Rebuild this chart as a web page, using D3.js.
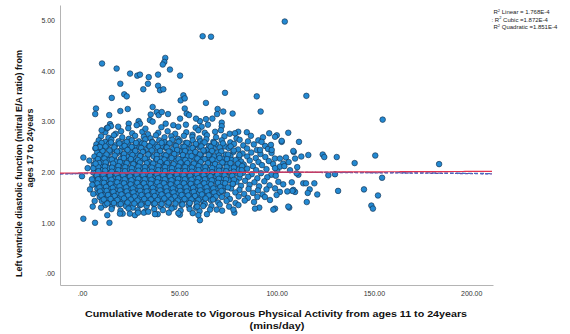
<!DOCTYPE html>
<html>
<head>
<meta charset="utf-8">
<script src="https://cdn.jsdelivr.net/npm/d3@7"></script>
<style>
  html, body { margin: 0; padding: 0; background: #fff; }
  svg { display: block; font-family: "Liberation Sans", Arial, sans-serif; }
</style>
</head>
<body>
<svg id="chart" width="570" height="334"></svg>
<script>
// Cumulative MVPA (mins/day, ages 11-24) vs mitral E/A ratio (ages 17-24)

const xTicks = [0, 50, 100, 150, 200];
const xTickLabels = [".00", "50.00", "100.00", "150.00", "200.00"];
const yTicks = [0, 1, 2, 3, 4, 5];
const yTickLabels = [".00", "1.00", "2.00", "3.00", "4.00", "5.00"];

// R² of the fitted curves
const fitNames = ["Linear", "Cubic", "Quadratic"];
const fitR2 = ["1.768E-4", "1.872E-4", "1.851E-4"];

// fitted coefficients (intercept, x, x², x³)
const linearFit = [1.985, 0.00015];
const quadraticFit = [1.975, 0.00045, -0.0000022];
const cubicFit = [1.972, 0.0006, -0.000004, 0.000000005];

// participants away from the main cloud
const fringePoints = [
  [104.2,4.98],[62.0,4.69],[66.3,4.68],[10.3,4.15],[17.8,4.05],[24.7,3.95],[28.4,3.91],[29.8,3.93],
  [34.3,3.88],[39.1,3.93],[42.8,4.26],[42.3,4.18],[41.5,4.13],[45.2,4.03],[50.4,3.91],[19.7,3.75],
  [33.9,3.75],[31.5,3.64],[39.1,3.71],[40.1,3.62],[41.8,3.64],[21.7,3.54],[23.0,3.50],[15.3,3.47],
  [50.7,3.42],[52.1,3.52],[52.8,3.46],[73.5,3.57],[89.8,3.50],[63.7,3.37],[115.3,3.51],[154.5,3.04],
  [7.2,3.26],[6.8,3.15],[14.0,3.13],[19.7,3.21],[23.5,3.25],[36.3,3.29],[35.3,3.14],[38.4,3.19],
  [39.4,3.13],[41.0,3.19],[44.2,3.15],[34.9,3.03],[36.3,3.00],[29.1,3.01],[29.8,2.96],[28.1,2.93],
  [24.0,2.96],[23.8,2.87],[14.4,2.95],[14.9,2.91],[12.7,2.87],[10.1,2.83],[43.0,2.96],[46.9,2.93],
  [50.4,3.06],[49.5,2.90],[91.8,3.20],[77.4,3.16],[72.6,3.20],[69.7,3.25],[69.4,3.15],[67.0,3.06],
  [63.7,3.05],[60.6,3.01],[58.6,3.06],[53.8,3.16],[55.0,3.13],[52.8,3.26],[71.8,2.98],[71.8,2.91],
  [64.7,2.94],[61.5,2.90],[58.4,2.88],[59.8,2.83],[53.4,2.94],[71.4,2.83],[96.2,2.77],[100.1,2.73],
  [106.0,2.78],[80.3,2.80],[78.6,2.77],[13.2,2.88],[32.6,2.86],[40.8,2.89],[18.6,2.90],
  [111.5,2.60],[112.7,2.31],[116.3,2.34],[123.7,2.35],[124.5,2.30],[130.9,2.30],[140.1,2.18],
  [150.7,2.33],[183.5,2.16],[110.6,2.10],[111.2,1.95],[126.6,1.94],[130.0,1.96],[154.2,1.89],
  [113.7,1.78],[115.1,1.78],[119.4,1.78],[117.0,1.66],[116.0,1.59],[120.9,1.56],[131.6,1.63],
  [144.9,1.66],[152.1,1.54],[115.5,1.41],[148.7,1.34],[149.5,1.28],[109.5,1.61],
  [102.6,2.60],[108.8,2.40],[106.5,1.30],[108.6,2.42],[104.8,2.29],[109.5,2.27],[106.9,2.04],
  [110.3,1.98],[107.8,1.80],[108.6,1.65],[106.0,1.32],[99.2,1.28],[91.1,1.30],[88.9,1.28],[78.3,1.20],
  [102.6,2.62],[99.2,2.70],[92.3,2.60],[97.1,2.54],[91.5,2.44],[97.5,2.44],[101.7,2.27],[103.4,2.17],
  [101.7,2.11],[99.2,2.08],[100.9,1.81],[103.4,1.76],[99.2,1.68],[101.7,1.61],[100.0,1.55],[96.6,1.45],
  [94.0,1.51],[104.0,2.12],[106.2,2.20],[108.1,1.63],[105.5,1.62],
  [0.7,1.08],[6.7,1.00],[14.1,1.00],[13.0,1.15],[5.5,1.32],[6.5,1.43],[9.8,1.30],[5.1,1.86],
  [5.3,1.75],[4.1,1.66],[5.8,1.57],[9.2,2.50],[7.0,2.48],[0.7,2.29],[3.8,2.23],[2.9,2.08],
  [0.0,1.92],[5.8,2.08],[7.0,2.17],[60.6,1.05],[59.8,1.15],[59.2,1.32],[62.3,1.33],
  [19.5,1.18],[24.6,1.18],[28.8,1.20],[34.1,1.22],[37.5,1.17],[49.5,1.19],[69.2,1.26],[77.8,1.26],
  [98.3,1.26]
];

// the main cloud of participants
const cloudPoints = [
  [12.0,2.79],[17.3,2.76],[20.1,2.81],[25.8,2.77],[31.0,2.80],[33.9,2.75],[39.2,2.78],[44.0,2.81],
  [47.9,2.76],[53.6,2.79],[56.8,2.74],[63.1,2.78],[68.4,2.80],[75.9,2.76],[84.7,2.79],
  [9.8,2.71],[13.6,2.68],[16.4,2.73],[20.7,2.69],[24.1,2.66],[27.3,2.72],[31.8,2.70],[35.2,2.67],
  [38.0,2.73],[42.4,2.69],[45.9,2.71],[49.3,2.66],[52.4,2.72],[56.7,2.70],[60.3,2.67],[64.2,2.73],
  [68.9,2.69],[73.2,2.71],[79.4,2.67],[86.8,2.72],[93.0,2.69],
  [8.6,2.63],[11.9,2.60],[15.1,2.64],[18.8,2.61],[21.9,2.58],[25.6,2.63],[29.3,2.61],[32.5,2.65],
  [36.1,2.60],[39.7,2.63],[42.6,2.59],[46.4,2.64],[50.2,2.62],[53.3,2.58],[56.9,2.63],[60.8,2.61],
  [63.9,2.65],[67.5,2.60],[71.8,2.63],[76.2,2.59],[81.0,2.64],[85.3,2.61],[90.6,2.63],
  [7.4,2.55],[10.3,2.52],[13.8,2.56],[17.0,2.53],[20.6,2.50],[23.7,2.55],[27.4,2.53],[30.9,2.57],
  [34.2,2.52],[37.5,2.55],[41.3,2.51],[44.6,2.56],[47.9,2.54],[51.6,2.50],[55.0,2.55],[58.4,2.53],
  [62.1,2.57],[65.3,2.52],[69.0,2.55],[73.6,2.51],[78.1,2.56],[82.9,2.53],[88.3,2.55],[94.1,2.52],
  [6.9,2.47],[9.5,2.44],[12.6,2.48],[15.7,2.45],[19.4,2.42],[22.5,2.47],[25.9,2.45],[29.6,2.49],
  [32.8,2.44],[36.4,2.47],[39.9,2.43],[43.2,2.48],[46.8,2.46],[50.1,2.42],[53.7,2.47],[57.1,2.45],
  [60.6,2.49],[64.0,2.44],[67.7,2.47],[71.2,2.43],[75.4,2.48],[80.2,2.45],[84.8,2.47],[89.9,2.44],
  [95.6,2.46],
  [7.8,2.39],[11.1,2.36],[14.4,2.40],[17.9,2.37],[21.0,2.34],[24.8,2.39],[28.2,2.37],[31.4,2.41],
  [35.0,2.36],[38.7,2.39],[41.9,2.35],[45.3,2.40],[48.8,2.38],[52.3,2.34],[55.6,2.39],[59.2,2.37],
  [62.7,2.41],[66.0,2.36],[69.6,2.39],[73.9,2.35],[77.8,2.40],[82.5,2.37],[87.0,2.39],[91.7,2.36],
  [97.4,2.38],
  [6.4,2.31],[9.7,2.28],[13.2,2.32],[16.5,2.29],[19.9,2.26],[23.1,2.31],[26.6,2.29],[30.3,2.33],
  [33.5,2.28],[36.9,2.31],[40.5,2.27],[43.9,2.32],[47.2,2.30],[50.8,2.26],[54.3,2.31],[57.6,2.29],
  [61.2,2.33],[64.7,2.28],[68.1,2.31],[71.9,2.27],[76.3,2.32],[80.6,2.29],[84.9,2.31],[89.3,2.28],
  [94.2,2.30],[99.1,2.27],
  [7.3,2.23],[10.6,2.20],[13.9,2.24],[17.4,2.21],[20.8,2.18],[24.2,2.23],[27.7,2.21],[31.0,2.25],
  [34.6,2.20],[38.0,2.23],[41.4,2.19],[44.9,2.24],[48.4,2.22],[51.7,2.18],[55.2,2.23],[58.8,2.21],
  [62.1,2.25],[65.6,2.20],[69.3,2.23],[73.1,2.19],[77.0,2.24],[81.8,2.21],[86.2,2.23],[90.7,2.20],
  [96.0,2.22],
  [6.1,2.15],[9.2,2.12],[12.5,2.16],[15.8,2.13],[19.2,2.10],[22.7,2.15],[26.0,2.13],[29.5,2.17],
  [32.9,2.12],[36.3,2.15],[39.8,2.11],[43.3,2.16],[46.6,2.14],[50.0,2.10],[53.6,2.15],[56.9,2.13],
  [60.4,2.17],[63.8,2.12],[67.4,2.15],[70.9,2.11],[74.7,2.16],[78.9,2.13],[83.1,2.15],[87.8,2.12],
  [92.5,2.14],[98.2,2.16],
  [7.0,2.07],[10.3,2.04],[13.7,2.08],[17.1,2.05],[20.4,2.02],[23.9,2.07],[27.3,2.05],[30.7,2.09],
  [34.1,2.04],[37.6,2.07],[41.0,2.03],[44.4,2.08],[47.9,2.06],[51.3,2.02],[54.8,2.07],[58.2,2.05],
  [61.6,2.09],[65.1,2.04],[68.6,2.07],[72.4,2.03],[76.1,2.08],[80.4,2.05],[84.9,2.07],[89.5,2.04],
  [94.8,2.06],[100.3,2.03],
  [6.0,1.99],[9.0,1.96],[12.3,2.00],[15.6,1.97],[19.0,1.94],[22.4,1.99],[25.8,1.97],[29.2,2.01],
  [32.6,1.96],[36.0,1.99],[39.5,1.95],[42.9,2.00],[46.3,1.98],[49.7,1.94],[53.2,1.99],[56.6,1.97],
  [60.0,2.01],[63.5,1.96],[67.0,1.99],[70.6,1.95],[74.4,2.00],[78.5,1.97],[82.8,1.99],[87.2,1.96],
  [92.0,1.98],[97.3,1.95],
  [7.2,1.91],[10.5,1.88],[13.8,1.92],[17.3,1.89],[20.6,1.86],[24.0,1.91],[27.5,1.89],[30.9,1.93],
  [34.3,1.88],[37.8,1.91],[41.2,1.87],[44.6,1.92],[48.1,1.90],[51.5,1.86],[55.0,1.91],[58.4,1.89],
  [61.9,1.93],[65.3,1.88],[68.9,1.91],[72.6,1.87],[76.6,1.92],[80.9,1.89],[85.4,1.91],[90.1,1.88],
  [95.2,1.90],[99.6,1.93],
  [6.3,1.83],[9.4,1.80],[12.7,1.84],[16.0,1.81],[19.4,1.78],[22.8,1.83],[26.2,1.81],[29.7,1.85],
  [33.0,1.80],[36.5,1.83],[39.9,1.79],[43.4,1.84],[46.8,1.82],[50.2,1.78],[53.7,1.83],[57.1,1.81],
  [60.6,1.85],[64.1,1.80],[67.7,1.83],[71.5,1.79],[75.3,1.84],[79.4,1.81],[83.8,1.83],[88.6,1.80],
  [93.7,1.82],
  [7.5,1.75],[10.9,1.72],[14.2,1.76],[17.6,1.73],[21.0,1.70],[24.5,1.75],[27.9,1.73],[31.3,1.77],
  [34.8,1.72],[38.2,1.75],[41.6,1.71],[45.1,1.76],[48.5,1.74],[52.0,1.70],[55.4,1.75],[58.9,1.73],
  [62.3,1.77],[65.8,1.72],[69.5,1.75],[73.3,1.71],[77.4,1.76],[81.7,1.73],[86.1,1.75],[91.0,1.72],
  [96.4,1.74],
  [7.9,1.67],[10.1,1.64],[13.4,1.68],[16.8,1.65],[20.2,1.62],[23.6,1.67],[27.0,1.65],[30.5,1.69],
  [33.9,1.64],[37.3,1.67],[40.8,1.63],[44.2,1.68],[47.7,1.66],[51.1,1.62],[54.6,1.67],[58.0,1.65],
  [61.5,1.69],[65.0,1.64],[68.7,1.67],[72.5,1.63],[76.6,1.68],[80.9,1.65],[85.6,1.67],[90.4,1.64],
  [94.8,1.66],
  [8.4,1.59],[11.8,1.56],[15.1,1.60],[18.5,1.57],[21.9,1.54],[25.3,1.59],[28.8,1.57],[32.2,1.61],
  [35.6,1.56],[39.1,1.59],[42.5,1.55],[46.0,1.60],[49.4,1.58],[52.9,1.54],[56.3,1.59],[59.8,1.57],
  [63.3,1.61],[66.9,1.56],[70.6,1.59],[74.6,1.55],[78.8,1.60],[83.3,1.57],[87.9,1.59],[92.8,1.56],
  [9.1,1.51],[12.6,1.48],[16.0,1.52],[19.4,1.49],[22.8,1.46],[26.2,1.51],[29.7,1.49],[33.1,1.53],
  [36.6,1.48],[40.0,1.51],[43.5,1.47],[46.9,1.52],[50.4,1.50],[53.8,1.46],[57.3,1.51],[60.8,1.49],
  [64.4,1.53],[68.1,1.48],[71.9,1.51],[76.0,1.47],[80.5,1.52],[85.2,1.49],[90.1,1.51],
  [10.2,1.43],[13.7,1.40],[17.1,1.44],[20.6,1.41],[24.0,1.38],[27.5,1.43],[30.9,1.41],[34.4,1.45],
  [37.8,1.40],[41.3,1.43],[44.8,1.39],[48.2,1.44],[51.7,1.42],[55.2,1.38],[58.8,1.43],[62.4,1.41],
  [66.2,1.45],[70.0,1.40],[74.3,1.43],[78.9,1.39],[83.6,1.44],[88.4,1.41],
  [11.9,1.35],[15.5,1.32],[19.0,1.36],[22.6,1.33],[26.1,1.30],[29.7,1.35],[33.2,1.33],[36.8,1.37],
  [40.3,1.32],[43.9,1.35],[47.5,1.31],[51.1,1.36],[54.8,1.34],[58.5,1.30],[62.4,1.35],[66.5,1.33],
  [70.8,1.36],[75.6,1.32],[80.4,1.35],
  [15.2,1.27],[19.8,1.24],[23.9,1.28],[28.6,1.25],[32.4,1.22],[37.1,1.27],[41.6,1.25],[46.0,1.28],
  [50.7,1.24],[55.3,1.27],[60.4,1.23],[65.8,1.26],[72.0,1.24],
  [20.9,1.18],[27.2,1.15],[31.8,1.20],[38.9,1.17],[44.6,1.20],[50.3,1.16],[56.9,1.19],[64.2,1.17]
];

// the densest core of the cloud
const corePoints = [
  [10.1,2.58],[14.9,2.59],[19.2,2.57],[23.0,2.60],[27.8,2.58],[32.1,2.56],[36.2,2.59],[40.9,2.58],
  [45.0,2.57],[49.6,2.60],[54.1,2.58],[58.5,2.56],[63.0,2.59],[67.9,2.58],[72.4,2.57],
  [8.8,2.50],[12.1,2.51],[16.6,2.49],[21.9,2.52],[25.5,2.50],[30.4,2.48],[34.8,2.51],[38.9,2.50],
  [43.6,2.49],[48.3,2.52],[52.6,2.50],[56.8,2.48],[61.3,2.51],[66.1,2.50],[70.8,2.49],[76.4,2.51],
  [10.6,2.42],[14.1,2.43],[18.0,2.41],[23.4,2.44],[27.4,2.42],[31.2,2.40],[35.9,2.43],[40.2,2.42],
  [44.5,2.41],[48.9,2.44],[53.0,2.42],[58.3,2.40],[62.4,2.43],[66.8,2.42],[71.6,2.41],[78.0,2.43],
  [9.0,2.34],[12.6,2.35],[16.8,2.33],[21.6,2.36],[25.9,2.34],[29.9,2.32],[34.0,2.35],[38.4,2.34],
  [43.1,2.33],[47.4,2.36],[51.8,2.34],[56.3,2.32],[60.6,2.35],[65.1,2.34],[70.4,2.33],[75.1,2.35],
  [80.9,2.34],
  [8.2,2.26],[11.5,2.27],[15.3,2.25],[21.5,2.28],[25.1,2.26],[28.7,2.24],[32.3,2.27],[38.5,2.26],
  [42.3,2.25],[46.0,2.28],[49.6,2.26],[53.1,2.24],[59.3,2.27],[63.0,2.26],[67.0,2.25],[70.7,2.28],
  [74.5,2.26],[79.0,2.24],
  [8.8,2.18],[12.2,2.19],[16.0,2.17],[19.5,2.20],[23.0,2.18],[26.4,2.16],[29.8,2.19],[33.3,2.18],
  [36.6,2.17],[40.2,2.20],[43.7,2.18],[47.1,2.16],[50.6,2.19],[54.1,2.18],[57.5,2.17],[61.0,2.20],
  [64.7,2.18],[68.4,2.16],[72.1,2.19],[76.3,2.18],[80.2,2.17],
  [8.3,2.10],[11.8,2.11],[15.4,2.09],[18.7,2.12],[22.2,2.10],[25.6,2.08],[29.0,2.11],[32.4,2.10],
  [35.9,2.09],[39.3,2.12],[42.7,2.10],[46.2,2.08],[49.6,2.11],[53.0,2.10],[56.5,2.09],[59.9,2.12],
  [63.4,2.10],[66.9,2.08],[70.5,2.11],[74.3,2.10],[78.1,2.09],[82.3,2.12],
  [8.4,2.02],[11.9,2.03],[15.3,2.01],[18.6,2.04],[22.1,2.02],[25.5,2.00],[29.0,2.03],[32.3,2.02],
  [35.8,2.01],[39.2,2.04],[42.7,2.02],[46.1,2.00],[49.5,2.03],[53.0,2.02],[56.4,2.01],[59.9,2.04],
  [63.3,2.02],[66.8,2.00],[70.4,2.03],[74.1,2.02],[78.0,2.01],[82.1,2.04],
  [7.6,1.94],[11.0,1.95],[14.4,1.93],[17.8,1.96],[21.2,1.94],[24.7,1.92],[28.1,1.95],[31.5,1.94],
  [35.0,1.93],[38.4,1.96],[41.8,1.94],[45.3,1.92],[48.7,1.95],[52.2,1.94],[55.6,1.93],[59.0,1.96],
  [62.5,1.94],[66.0,1.92],[69.6,1.95],[73.3,1.94],[77.2,1.93],[81.3,1.96],
  [8.3,1.86],[11.7,1.87],[15.1,1.85],[18.6,1.88],[22.0,1.86],[25.4,1.84],[28.9,1.87],[32.3,1.86],
  [35.7,1.85],[39.1,1.88],[42.6,1.86],[46.0,1.84],[49.4,1.87],[52.9,1.86],[56.3,1.85],[59.8,1.88],
  [63.2,1.86],[66.7,1.84],[70.3,1.87],[74.0,1.86],[78.1,1.85],
  [7.9,1.78],[11.3,1.79],[14.7,1.77],[18.1,1.80],[21.6,1.78],[25.0,1.76],[28.4,1.79],[31.8,1.78],
  [35.3,1.77],[38.7,1.80],[42.1,1.78],[45.6,1.76],[49.0,1.79],[52.4,1.78],[55.9,1.77],[59.3,1.80],
  [62.8,1.78],[66.3,1.76],[69.9,1.79],[73.6,1.78],[77.5,1.77],
  [9.0,1.70],[12.4,1.71],[15.8,1.69],[19.3,1.72],[22.7,1.70],[26.1,1.68],[29.6,1.71],[33.0,1.70],
  [36.4,1.69],[39.9,1.72],[43.3,1.70],[46.7,1.68],[50.2,1.71],[53.6,1.70],[57.1,1.69],[60.5,1.72],
  [64.0,1.70],[67.5,1.68],[71.1,1.71],[75.0,1.70],
  [9.3,1.62],[12.7,1.63],[16.1,1.61],[19.6,1.64],[23.0,1.62],[26.4,1.60],[29.9,1.63],[33.3,1.62],
  [36.7,1.61],[40.2,1.64],[43.6,1.62],[47.0,1.60],[50.5,1.63],[53.9,1.62],[57.4,1.61],[60.8,1.64],
  [64.3,1.62],[67.9,1.60],[71.7,1.63],
  [10.0,1.54],[13.4,1.55],[16.8,1.53],[20.3,1.56],[23.7,1.54],[27.1,1.52],[30.6,1.55],[34.0,1.54],
  [37.4,1.53],[40.9,1.56],[44.3,1.54],[47.7,1.52],[51.2,1.55],[54.6,1.54],[58.1,1.53],[61.6,1.56],
  [65.1,1.54],[68.8,1.52],
  [11.2,1.46],[14.7,1.47],[18.2,1.45],[21.6,1.48],[25.1,1.46],[28.5,1.44],[32.0,1.47],[35.4,1.46],
  [38.9,1.45],[42.3,1.48],[45.8,1.46],[49.2,1.44],[52.7,1.47],[56.2,1.46],[59.8,1.45],[63.5,1.48],
  [67.3,1.46],
  [13.0,1.38],[16.4,1.39],[19.9,1.37],[23.4,1.40],[26.9,1.38],[30.4,1.36],[33.9,1.39],[37.4,1.38],
  [40.9,1.37],[44.5,1.40],[48.0,1.38],[51.6,1.36],[55.3,1.39],[59.0,1.38],[63.1,1.37]
];

const svg = d3.select("#chart");
svg.append("rect").attr("width", 570).attr("height", 334).attr("fill", "#fff");

const x = d3.scaleLinear().domain([-11.3, 211.2]).range([60, 493]);
const y = d3.scaleLinear().domain([-0.231, 5.307]).range([285, 5]);

// axes (labels only, no tick marks)
const xAxis = d3.axisBottom(x).tickValues(xTicks)
  .tickFormat((d, i) => xTickLabels[i]).tickSize(0).tickPadding(6.5).tickSizeOuter(0);
const yAxis = d3.axisLeft(y).tickValues(yTicks)
  .tickFormat((d, i) => yTickLabels[i]).tickSize(0).tickPadding(5).tickSizeOuter(0);

const gx = svg.append("g").attr("transform", "translate(0,285)").call(xAxis);
const gy = svg.append("g").attr("transform", "translate(60,0)").call(yAxis);
[gx, gy].forEach(g => {
  g.select(".domain").attr("stroke", "#b4b4b4").attr("stroke-width", 1);
  g.selectAll("text").attr("font-size", 7).attr("fill", "#333")
    .attr("font-family", "'Liberation Sans', Arial, sans-serif");
});

// scatter
const allPoints = cloudPoints.concat(corePoints, fringePoints);
svg.append("g").selectAll("circle").data(allPoints).join("circle")
  .attr("cx", d => x(d[0])).attr("cy", d => y(d[1])).attr("r", 2.8)
  .attr("fill", "#2389d2").attr("stroke", "#15324f").attr("stroke-width", 0.65);

// fitted curves
const poly = c => v => c.reduce((s, k, i) => s + k * Math.pow(v, i), 0);
const xs = d3.range(-11.3, 211.3, 1);
const line = f => d3.line().x(v => x(v)).y(v => y(f(v)))(xs);

svg.append("path").attr("d", line(poly(cubicFit))).attr("fill", "none")
  .attr("stroke", "#5d4fa8").attr("stroke-width", 1.3).attr("stroke-dasharray", "3,2");
svg.append("path").attr("d", line(poly(quadraticFit))).attr("fill", "none")
  .attr("stroke", "#4a6cc0").attr("stroke-width", 1.3).attr("stroke-dasharray", "4,2");
svg.append("path").attr("d", line(poly(linearFit))).attr("fill", "none")
  .attr("stroke", "#e2334f").attr("stroke-width", 1.2);

// R² annotations
const notes = svg.append("g").attr("font-size", 6).attr("fill", "#222");
fitNames.forEach((name, i) => {
  const t = notes.append("text").attr("x", i === 1 ? 491.5 : 493.5).attr("y", 14.3 + i * 7.3);
  if (i === 1) t.append("tspan").text(": ");
  t.append("tspan").text("R");
  t.append("tspan").attr("font-size", 4).attr("dy", -2.2).text("2");
  t.append("tspan").attr("dy", 2.2).text(i === 0 ? ` ${name} = ${fitR2[i]}` : ` ${name} =${fitR2[i]}`);
});

// axis titles
const titles = svg.append("g").attr("font-weight", "bold").attr("fill", "#111");
titles.append("text").attr("x", 276).attr("y", 316.5).attr("text-anchor", "middle")
  .attr("font-size", 9.5).attr("textLength", 382).attr("lengthAdjust", "spacingAndGlyphs")
  .text("Cumulative Moderate to Vigorous Physical Activity from ages 11 to 24years");
titles.append("text").attr("x", 277).attr("y", 329).attr("text-anchor", "middle")
  .attr("font-size", 9.5).attr("textLength", 55).attr("lengthAdjust", "spacingAndGlyphs")
  .text("(mins/day)");
titles.append("text").attr("transform", "translate(21.5,163.5) rotate(-90)")
  .attr("text-anchor", "middle").attr("font-size", 9)
  .attr("textLength", 227).attr("lengthAdjust", "spacingAndGlyphs")
  .text("Left ventricle diastolic function (mitral E/A ratio) from");
titles.append("text").attr("transform", "translate(32.5,148) rotate(-90)")
  .attr("text-anchor", "middle").attr("font-size", 9)
  .attr("textLength", 79).attr("lengthAdjust", "spacingAndGlyphs")
  .text("ages 17 to 24years");
</script>
</body>
</html>
